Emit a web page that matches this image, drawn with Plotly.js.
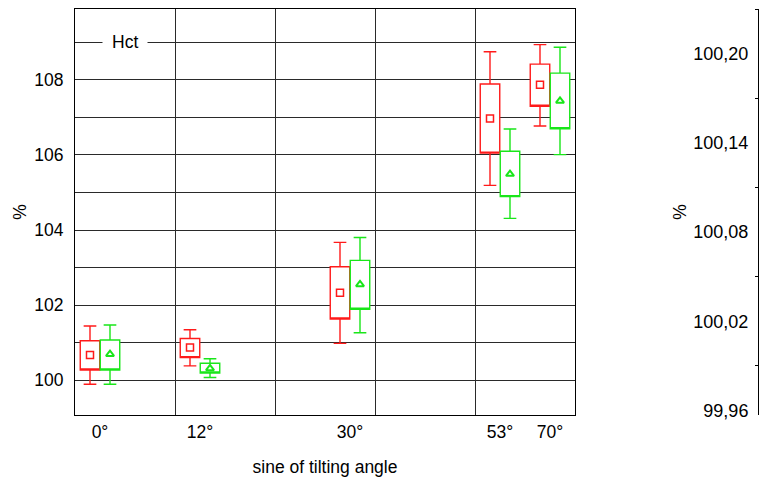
<!DOCTYPE html>
<html>
<head>
<meta charset="utf-8">
<script src="https://cdn.plot.ly/plotly-3.0.1.min.js"></script>
<style>html,body{margin:0;padding:0;background:#fff;}#chart{width:761px;height:480px;}</style>
</head>
<body>
<div id="chart"></div>
<script>
// Tilting angles and their positions on the sine axis
var angleLabels = ['0°', '12°', '30°', '53°', '70°'];
var anglePositions = [0, 0.2, 0.5, 0.8, 0.9];

// Red series (square marker)
var redUpper = [101.44, 101.34, 103.67, 108.75, 108.94];
var redQ3    = [101.05, 101.11, 103.02, 107.89, 108.42];
var redMid   = [100.67, 100.87, 102.33, 106.97, 107.87];
var redQ1    = [100.27, 100.60, 101.63, 106.05, 107.30];
var redLower = [99.89, 100.38, 100.98, 105.19, 106.77];

// Green series (triangle marker)
var greenUpper = [101.47, 100.57, 103.80, 106.69, 108.87];
var greenQ3    = [101.07, 100.45, 103.19, 106.10, 108.18];
var greenMid   = [100.69, 100.31, 102.55, 105.49, 107.44];
var greenQ1    = [100.27, 100.19, 101.89, 104.89, 106.70];
var greenLower = [99.89, 100.07, 101.26, 104.31, 106.01];

var FONT = '"Liberation Sans", Arial, sans-serif';
var FS = 17.5;
var RED = '#ff1a1a';
var GREEN = '#19e619';
var GRID = '#2a2a2a';
var OFFSET = 0.02;
var BOXW = 0.039;

var redX = anglePositions.map(function (p) { return p - OFFSET; });
var greenX = anglePositions.map(function (p) { return p + OFFSET; });

function boxTrace(xs, lo, q1, q3, hi, color, name) {
  return {
    type: 'box', name: name, x: xs,
    lowerfence: lo, q1: q1, median: q1, q3: q3, upperfence: hi,
    width: BOXW, whiskerwidth: 0.65,
    fillcolor: '#ffffff', line: {color: color, width: 1.4},
    boxpoints: false, hoverinfo: 'skip', showlegend: false,
    xaxis: 'x', yaxis: 'y'
  };
}

var data = [
  boxTrace(redX, redLower, redQ1, redQ3, redUpper, RED, 'red'),
  boxTrace(greenX, greenLower, greenQ1, greenQ3, greenUpper, GREEN, 'green'),
  {type: 'scatter', mode: 'markers', x: redX, y: redMid, showlegend: false,
   marker: {symbol: 'square-open', size: 7, color: RED, line: {width: 1.5, color: RED}}},
  {type: 'scatter', mode: 'markers', x: greenX, y: greenMid, showlegend: false,
   marker: {symbol: 'triangle-up-open', size: 7, color: GREEN, line: {width: 2, color: GREEN}}},
  // right panel (only its axis is visible)
  {type: 'scatter', mode: 'markers', x: [0], y: [100.1], xaxis: 'x2', yaxis: 'y2',
   showlegend: false, hoverinfo: 'skip', marker: {opacity: 0}}
];

var layout = {
  width: 761, height: 480,
  margin: {l: 75, r: 0, t: 9, b: 65},
  paper_bgcolor: '#ffffff', plot_bgcolor: '#ffffff',
  font: {family: FONT, size: FS, color: '#000'},
  separators: ', ',
  showlegend: false,
  boxmode: 'overlay',
  xaxis: {
    domain: [0, 500 / 686],
    range: [-0.05, 0.95],
    tickmode: 'array', tickvals: anglePositions, ticktext: angleLabels,
    ticks: '', showgrid: false, zeroline: false,
    showline: true, mirror: true, linecolor: '#000', linewidth: 1,
    ticklabelstandoff: 1,
    minor: {tick0: -0.05, dtick: 0.2, showgrid: true, gridcolor: GRID, gridwidth: 1, ticks: ''},
    title: {text: 'sine of tilting angle', font: {size: FS}, standoff: 19},
    fixedrange: true
  },
  yaxis: {
    range: [99.07, 109.89],
    tick0: 100, dtick: 2, ticks: '',
    showgrid: true, gridcolor: GRID, gridwidth: 1, zeroline: false,
    showline: true, mirror: true, linecolor: '#000', linewidth: 1,
    ticklabelstandoff: 7,
    minor: {tick0: 100, dtick: 1, showgrid: true, gridcolor: GRID, gridwidth: 1, ticks: ''},
    title: {text: '%', font: {size: FS}, standoff: 3},
    fixedrange: true
  },
  xaxis2: {
    domain: [684 / 686, 1], anchor: 'y2', visible: false, range: [-1, 1], fixedrange: true
  },
  yaxis2: {
    anchor: 'x2', side: 'left',
    range: [99.957, 100.230],
    tick0: 99.96, dtick: 0.06, tickformat: '.2f',
    ticks: '', showgrid: false, zeroline: false,
    showline: true, linecolor: '#000', linewidth: 1,
    ticklabelstandoff: 6,
    tickfont: {size: 18},
    minor: {tick0: 99.99, dtick: 0.06, ticks: 'outside', ticklen: 3, tickcolor: '#000', showgrid: false},
    title: {text: '%', font: {size: FS}, standoff: 2},
    fixedrange: true
  },
  annotations: [{
    x: 0.05, y: 109, xref: 'x', yref: 'y', text: 'Hct', showarrow: false,
    bgcolor: '#ffffff', borderpad: 9, font: {size: FS}
  }]
};

Plotly.newPlot('chart', data, layout, {staticPlot: true, displayModeBar: false});
</script>
</body>
</html>
